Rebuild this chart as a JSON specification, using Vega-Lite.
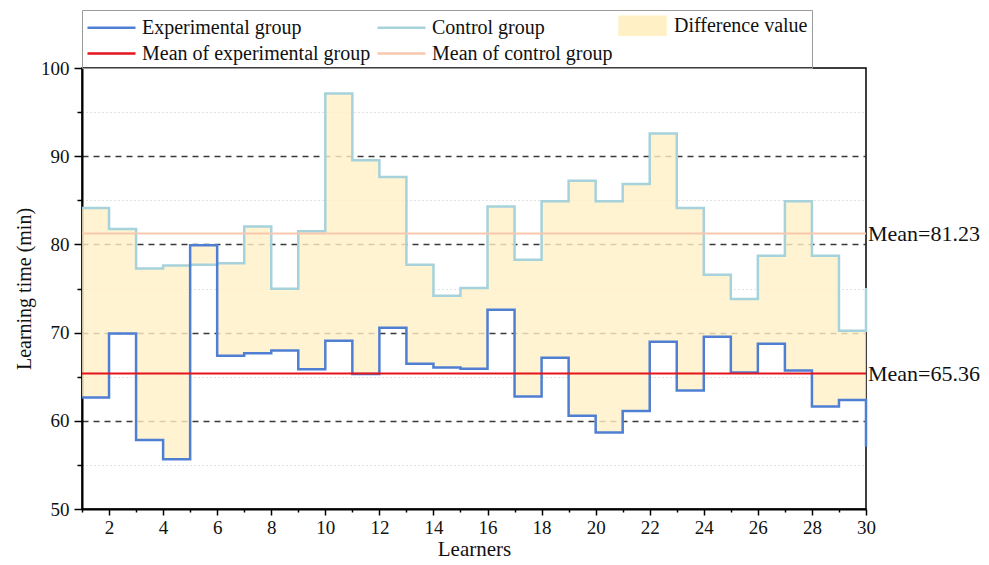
{
  "$schema": "https://vega.github.io/schema/vega-lite/v6.json",
  "width": 784,
  "height": 441,
  "autosize": {"type": "none"},
  "padding": {"left": 82, "top": 68, "right": 123, "bottom": 56},
  "background": "white",
  "config": {
    "font": "Liberation Serif",
    "view": {"stroke": "black", "strokeWidth": 1.5},
    "legend": {
      "title": null,
      "orient": "none",
      "legendX": 0,
      "legendY": -58,
      "columns": 3,
      "direction": "horizontal",
      "columnPadding": 1,
      "rowPadding": 2,
      "padding": 4,
      "strokeColor": "#9a9a9a",
      "labelFont": "Liberation Serif",
      "labelFontSize": 20,
      "labelColor": "#111",
      "labelLimit": 400,
      "labelOffset": 33,
      "symbolSize": 400,
      "symbolType": "M-1,0H3.8",
      "symbolStrokeWidth": 2.5
    }
  },
  "datasets": {
    "learners": [
      {"learner": 1, "exp": 62.63, "ctrl": 84.13},
      {"learner": 2, "exp": 69.9, "ctrl": 81.75},
      {"learner": 3, "exp": 57.83, "ctrl": 77.28},
      {"learner": 4, "exp": 55.64, "ctrl": 77.62},
      {"learner": 5, "exp": 79.9, "ctrl": 77.7},
      {"learner": 6, "exp": 67.37, "ctrl": 77.85},
      {"learner": 7, "exp": 67.67, "ctrl": 82.04},
      {"learner": 8, "exp": 67.97, "ctrl": 74.97},
      {"learner": 9, "exp": 65.85, "ctrl": 81.48},
      {"learner": 10, "exp": 69.07, "ctrl": 97.1},
      {"learner": 11, "exp": 65.3, "ctrl": 89.54},
      {"learner": 12, "exp": 70.54, "ctrl": 87.65},
      {"learner": 13, "exp": 66.46, "ctrl": 77.7},
      {"learner": 14, "exp": 66.04, "ctrl": 74.18},
      {"learner": 15, "exp": 65.89, "ctrl": 75.05},
      {"learner": 16, "exp": 72.59, "ctrl": 84.31},
      {"learner": 17, "exp": 62.75, "ctrl": 78.26},
      {"learner": 18, "exp": 67.14, "ctrl": 84.88},
      {"learner": 19, "exp": 60.56, "ctrl": 87.23},
      {"learner": 20, "exp": 58.66, "ctrl": 84.88},
      {"learner": 21, "exp": 61.12, "ctrl": 86.85},
      {"learner": 22, "exp": 68.96, "ctrl": 92.57},
      {"learner": 23, "exp": 63.43, "ctrl": 84.13},
      {"learner": 24, "exp": 69.52, "ctrl": 76.56},
      {"learner": 25, "exp": 65.47, "ctrl": 73.8},
      {"learner": 26, "exp": 68.73, "ctrl": 78.72},
      {"learner": 27, "exp": 65.7, "ctrl": 84.88},
      {"learner": 28, "exp": 61.61, "ctrl": 78.72},
      {"learner": 29, "exp": 62.37, "ctrl": 70.2},
      {"learner": 30, "exp": 57.07, "ctrl": 75.05}
    ],
    "means": [
      {"group": "Mean of experimental group", "mean": 65.36, "label": "Mean=65.36"},
      {"group": "Mean of control group", "mean": 81.23, "label": "Mean=81.23"}
    ]
  },
  "encoding": {
    "x": {
      "type": "quantitative",
      "scale": {"domain": [1, 30], "nice": false, "zero": false},
      "axis": {
        "title": "Learners",
        "titleFontSize": 21,
        "titleFontWeight": "normal",
        "titleColor": "#111",
        "titlePadding": 1,
        "values": [1,2,3,4,5,6,7,8,9,10,11,12,13,14,15,16,17,18,19,20,21,22,23,24,25,26,27,28,29,30],
        "labelExpr": "datum.value % 2 == 0 ? datum.label : ''",
        "labelFontSize": 19,
        "labelColor": "#111",
        "labelPadding": 3,
        "labelFlush": false,
        "labelOverlap": false,
        "domainColor": "black",
        "domainWidth": 2,
        "tickColor": "black",
        "tickWidth": 1.5,
        "tickSize": {"condition": {"test": "datum.value % 2 == 0", "value": 6}, "value": 3},
        "grid": false
      }
    },
    "y": {
      "type": "quantitative",
      "scale": {"domain": [50, 100], "nice": false, "zero": false},
      "axis": {
        "title": "Learning time (min)",
        "titleFontSize": 20,
        "titleFontWeight": "normal",
        "titleColor": "#111",
        "titlePadding": 6,
        "values": [50,55,60,65,70,75,80,85,90,95,100],
        "labelExpr": "datum.value % 10 == 0 ? datum.label : ''",
        "labelFontSize": 19,
        "labelColor": "#111",
        "labelPadding": 5,
        "labelFlush": false,
        "domainColor": "black",
        "domainWidth": 2,
        "tickColor": "black",
        "tickWidth": 1.5,
        "tickSize": {"condition": {"test": "datum.value % 10 == 0", "value": 8}, "value": 5},
        "grid": true,
        "gridDash": {"condition": {"test": "datum.value % 10 == 0", "value": [6, 5]}, "value": [1, 3]},
        "gridColor": {"condition": {"test": "datum.value % 10 == 0", "value": "#3a3a3a"}, "value": "#c4c4c4"},
        "gridWidth": {"condition": {"test": "datum.value % 10 == 0", "value": 1.4}, "value": 1},
        "gridOpacity": {"condition": {"test": "datum.value == 50 || datum.value == 100", "value": 0}, "value": 1}
      }
    }
  },
  "layer": [
    {
      "data": {"name": "learners"},
      "mark": {"type": "area", "interpolate": "step-after", "opacity": 0.8},
      "encoding": {
        "x": {"field": "learner", "type": "quantitative"},
        "y": {"field": "exp", "type": "quantitative"},
        "y2": {"field": "ctrl"},
        "color": {
          "datum": "Difference value",
          "type": "nominal",
          "title": null,
          "scale": {
            "domain": ["Experimental group", "Control group", "Difference value", "Mean of experimental group", "Mean of control group"],
            "range": ["#4f7fd3", "#a6d2dc", "#fff0c6", "#e3141c", "#f7c8ae"]
          },
          "legend": {
            "encode": {"symbols": {"update": {
              "shape": {"signal": "datum.value === 'Difference value' ? 'M-1,-0.9H3.6V0.9H-1Z' : 'M-1,0H3.8'"},
              "strokeWidth": {"value": 2.5},
              "opacity": {"value": 1},
              "fillOpacity": {"value": 1}
            }}}
          }
        }
      }
    },
    {
      "data": {"name": "learners"},
      "mark": {"type": "line", "interpolate": "step-after", "strokeWidth": 2.5},
      "encoding": {
        "x": {"field": "learner", "type": "quantitative"},
        "y": {"field": "ctrl", "type": "quantitative"},
        "color": {
          "datum": "Control group",
          "type": "nominal",
          "legend": {
            "encode": {"symbols": {"update": {
              "shape": {"signal": "datum.value === 'Difference value' ? 'M-1,-0.9H3.6V0.9H-1Z' : 'M-1,0H3.8'"},
              "strokeWidth": {"value": 2.5},
              "opacity": {"value": 1},
              "fillOpacity": {"value": 1}
            }}}
          }
        }
      }
    },
    {
      "data": {"name": "learners"},
      "mark": {"type": "line", "interpolate": "step-after", "strokeWidth": 2.5},
      "encoding": {
        "x": {"field": "learner", "type": "quantitative"},
        "y": {"field": "exp", "type": "quantitative"},
        "color": {
          "datum": "Experimental group",
          "type": "nominal",
          "legend": {
            "encode": {"symbols": {"update": {
              "shape": {"signal": "datum.value === 'Difference value' ? 'M-1,-0.9H3.6V0.9H-1Z' : 'M-1,0H3.8'"},
              "strokeWidth": {"value": 2.5},
              "opacity": {"value": 1},
              "fillOpacity": {"value": 1}
            }}}
          }
        }
      }
    },
    {
      "data": {"name": "means"},
      "transform": [{"filter": "datum.group == 'Mean of control group'"}],
      "mark": {"type": "rule", "strokeWidth": 2},
      "encoding": {
        "y": {"field": "mean", "type": "quantitative"},
        "color": {
          "datum": "Mean of control group",
          "type": "nominal",
          "legend": {
            "encode": {"symbols": {"update": {
              "shape": {"signal": "datum.value === 'Difference value' ? 'M-1,-0.9H3.6V0.9H-1Z' : 'M-1,0H3.8'"},
              "strokeWidth": {"value": 2.5},
              "opacity": {"value": 1},
              "fillOpacity": {"value": 1}
            }}}
          }
        }
      }
    },
    {
      "data": {"name": "means"},
      "transform": [{"filter": "datum.group == 'Mean of experimental group'"}],
      "mark": {"type": "rule", "strokeWidth": 2},
      "encoding": {
        "y": {"field": "mean", "type": "quantitative"},
        "color": {
          "datum": "Mean of experimental group",
          "type": "nominal",
          "legend": {
            "encode": {"symbols": {"update": {
              "shape": {"signal": "datum.value === 'Difference value' ? 'M-1,-0.9H3.6V0.9H-1Z' : 'M-1,0H3.8'"},
              "strokeWidth": {"value": 2.5},
              "opacity": {"value": 1},
              "fillOpacity": {"value": 1}
            }}}
          }
        }
      }
    },
    {
      "data": {"name": "means"},
      "mark": {"type": "text", "align": "left", "baseline": "middle", "dx": 2, "fontSize": 22, "color": "#111", "font": "Liberation Serif"},
      "encoding": {
        "x": {"datum": 30},
        "y": {"field": "mean", "type": "quantitative"},
        "text": {"field": "label"}
      }
    }
  ]
}
